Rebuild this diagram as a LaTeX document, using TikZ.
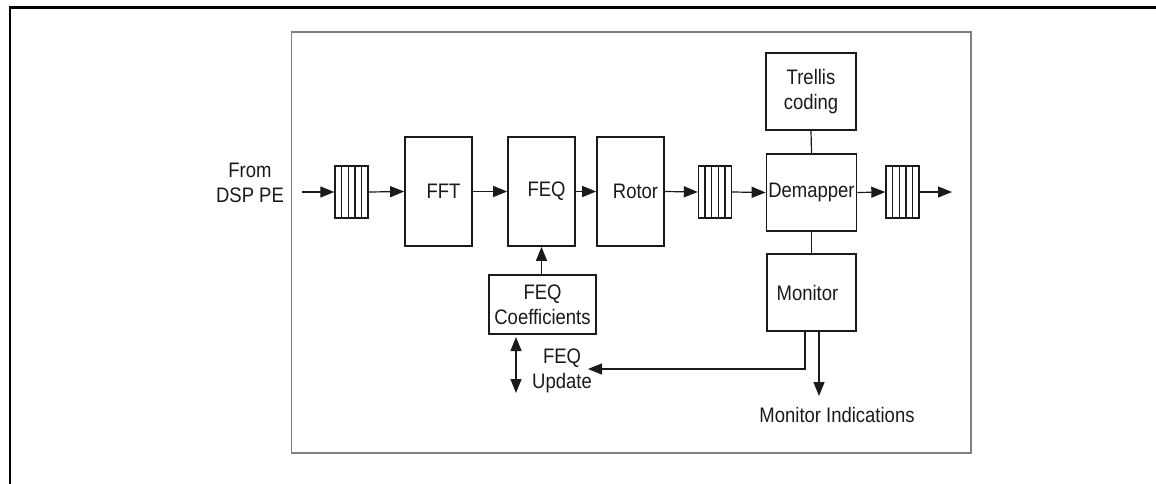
\documentclass[tikz,border=0pt]{standalone}
\usepackage{fontspec}
\setmainfont{Liberation Sans}[FakeStretch=0.88]
\usetikzlibrary{arrows.meta,calc}
\definecolor{ink}{HTML}{1A1A1A}
\definecolor{framegray}{HTML}{808080}
\begin{document}
\begin{tikzpicture}[x=1pt,y=-1pt,
  every node/.style={font=\fontsize{21}{25}\selectfont, text=ink},
  box/.style={draw=ink, line width=1.7pt, inner sep=0pt},
  fifo/.style={draw=ink, line width=1.4pt, inner sep=0pt, minimum width=33pt, minimum height=52pt,
    path picture={\foreach \i in {1,2,3,4}{\draw[ink, line width=1.4pt]
      ($(path picture bounding box.north west)!\i/5!(path picture bounding box.north east)$) --
      ($(path picture bounding box.south west)!\i/5!(path picture bounding box.south east)$);}}},
  arr/.style={draw=ink, line width=1.2pt, -{Triangle[length=14pt,width=11pt]}},
  darr/.style={draw=ink, line width=1.2pt, {Triangle[length=14pt,width=11pt]}-{Triangle[length=14pt,width=11pt]}},
  conn/.style={draw=ink, line width=1.2pt},
  txt/.style={align=center, inner sep=0pt}]
\useasboundingbox (0,0) rectangle (1156,483);
% outer frame
\draw[line width=2.2pt, black] (10,484) -- (10,7.5) -- (1157,7.5);
% inner frame
\draw[framegray, line width=1.3pt] (291.5,32) rectangle (971,453);

% nodes
\node[txt] (from) at (250,183) {From\\DSP PE};
\coordinate (in) at (302,192);
\node[fifo] (fifo1) at (351.5,192) {};
\node[box, minimum width=67pt, minimum height=109pt, label={[xshift=5pt]center:FFT}] (fft) at (438.5,191.5) {};
\node[box, minimum width=67pt, minimum height=109pt, label={[xshift=5pt]center:FEQ}] (feq) at (541.5,191.5) {};
\node[box, minimum width=67pt, minimum height=109pt, label={[xshift=5pt]center:Rotor}] (rotor) at (630.5,191.5) {};
\node[fifo] (fifo2) at (715,192) {};
\node[box, minimum width=90pt, minimum height=77pt] (demap) at (811.5,192.5) {Demapper};
\node[box, minimum width=90pt, minimum height=77pt, align=center] (trellis) at (811,91.5) {Trellis\\coding};
\node[box, minimum width=89pt, minimum height=77pt, label={[xshift=-4pt]center:Monitor}] (monitor) at (811.5,292.5) {};
\node[fifo] (fifo3) at (902.5,192) {};
\coordinate (out) at (952,192);
\node[box, minimum width=107pt, minimum height=59pt, align=center] (coef) at (542.5,304.5) {FEQ\\Coefficients};
\coordinate (ua) at (516,337);
\coordinate (ub) at (516,393);
\node[txt] (upd) at (562,371) {FEQ\\Update};
\coordinate (updtip) at (588,369);
\coordinate (mitip) at (819,396);
\node[txt] (monind) at (837,415) {Monitor Indications};

% connectors
\draw[arr] (in) -- (fifo1.west);
\draw[arr] (fifo1.east) -- (fft.west);
\draw[arr] (fft.east) -- (feq.west);
\draw[arr] (feq.east) -- (rotor.west);
\draw[arr] (rotor.east) -- (fifo2.west);
\draw[arr] (fifo2.east) -- (demap.west);
\draw[arr] (demap.east) -- (fifo3.west);
\draw[arr] (fifo3.east) -- (out);
\draw[conn] (trellis.south) -- (demap.north);
\draw[conn] (demap.south) -- (monitor.north);
\draw[arr] (coef.north -| feq.south) -- (feq.south);
\draw[darr] (ua) -- (ub);
\draw[arr] ([xshift=-6.5pt]monitor.south) |- (updtip);
\draw[arr] ([xshift=7.5pt]monitor.south) -- (mitip);
\end{tikzpicture}
\end{document}
